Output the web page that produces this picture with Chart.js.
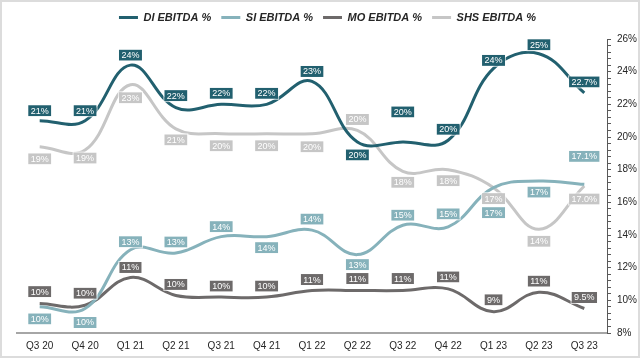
<!DOCTYPE html>
<html>
<head>
<meta charset="utf-8">
<script src="https://cdn.jsdelivr.net/npm/chart.js@4.4.1/dist/chart.umd.min.js"></script>
<style>
    html, body { margin: 0; padding: 0; background: #fff; }
    #wrap {
        width: 640px;
        height: 358px;
        box-sizing: border-box;
        border: 2px solid #dcdcdc;
    }
</style>
</head>
<body>
<div id="wrap"><canvas id="my-chart" width="636" height="354"></canvas></div>
<script>
// quarters on the x axis
const categories = ['Q3 20', 'Q4 20', 'Q1 21', 'Q2 21', 'Q3 21', 'Q4 21', 'Q1 22', 'Q2 22', 'Q3 22', 'Q4 22', 'Q1 23', 'Q2 23', 'Q3 23']

// EBITDA margins in %
const diValues = [21.0, 21.0, 24.4, 21.8, 22.0, 22.0, 23.4, 19.7, 19.7, 19.8, 24.2, 25.1, 22.7]
const siValues = [9.6, 9.5, 13.1, 12.9, 13.9, 13.9, 14.3, 12.8, 14.6, 14.5, 16.9, 17.3, 17.1]
const moValues = [9.8, 9.7, 11.4, 10.3, 10.2, 10.2, 10.6, 10.6, 10.6, 10.7, 9.3, 10.5, 9.5]
const shsValues = [19.4, 19.2, 23.2, 20.5, 20.2, 20.2, 20.2, 20.4, 17.9, 18.0, 16.9, 14.35, 17.0]

// labelled ticks on the right axis
const yTickLabels = [8, 10, 12, 14, 16, 18, 20, 22, 24, 26]

// vertical nudge of each value box from its point (px)
const labelShift = {
    di: [-10, -10, -10, -12, -11, -11, -10, 13, -30, -11, -8, -9, -11],
    si: [12, 14, -8, -11, -10, 11, -11, 10, -10, -13, 25, 11, -28],
    mo: [-12, -12, -10, -11, -11, -11, -11, -12, -12, -12, -12, -11, -11],
    shs: [12, 8, 13, 11, 12, 12, 13, -11, 11, 11, 11, 12, 13]
}

const FONT = "'Liberation Sans', Arial, sans-serif"

function makeSet(label, data, color, key) {
    return {
        label: label,
        data: data,
        borderColor: color,
        backgroundColor: color,
        borderWidth: 3,
        tension: 0.4,
        pointRadius: 0,
        pointHoverRadius: 0,
        fill: false,
        shiftKey: key
    }
}

// draw the little value boxes next to every point
const valueBoxes = {
    id: 'valueBoxes',
    afterDatasetsDraw(chart) {
        const c = chart.ctx
        c.save()
        c.font = '9px ' + FONT
        c.textAlign = 'center'
        c.textBaseline = 'middle'
        for (let d = chart.data.datasets.length - 1; d >= 0; d--) {
            const ds = chart.data.datasets[d]
            const meta = chart.getDatasetMeta(d)
            meta.data.forEach((pt, i) => {
                const v = ds.data[i]
                const txt = (i === ds.data.length - 1 ? v.toFixed(1) : Math.round(v)) + '%'
                const x = pt.x
                const y = pt.y + labelShift[ds.shiftKey][i]
                const w = c.measureText(txt).width + 5
                const h = 11
                c.fillStyle = ds.borderColor
                c.fillRect(x - w / 2, y - h / 2, w, h)
                c.strokeStyle = 'rgba(255,255,255,0.7)'
                c.lineWidth = 1
                c.strokeRect(x - w / 2 - 0.5, y - h / 2 - 0.5, w + 1, h + 1)
                c.fillStyle = '#ffffff'
                c.fillText(txt, x, y + 0.5)
            })
        }
        c.restore()
    }
}

new Chart(document.getElementById('my-chart'), {
    type: 'line',
    data: {
        labels: categories,
        datasets: [
            makeSet('DI EBITDA %', diValues, '#22606f', 'di'),
            makeSet('SI EBITDA %', siValues, '#86b2bb', 'si'),
            makeSet('MO EBITDA %', moValues, '#6d6a6a', 'mo'),
            makeSet('SHS EBITDA %', shsValues, '#c6c6c6', 'shs')
        ]
    },
    options: {
        responsive: false,
        animation: false,
        events: [],
        layout: { padding: { top: 0, left: 15, right: 0, bottom: 0 } },
        plugins: {
            legend: {
                position: 'top',
                weight: 3000,
                labels: {
                    usePointStyle: true,
                    pointStyle: 'line',
                    pointStyleWidth: 19,
                    padding: 10,
                    color: '#262626',
                    font: { family: FONT, size: 11, style: 'italic', weight: 'bold' }
                }
            },
            // empty title used as a spacer under the legend
            title: {
                display: true,
                text: '',
                font: { size: 1, lineHeight: 1 },
                padding: { top: 0, bottom: 5 }
            },
            tooltip: { enabled: false }
        },
        scales: {
            x: {
                offset: true,
                grid: { display: false, drawTicks: false, offset: true },
                border: { display: true, color: '#a6a6a6', width: 2 },
                ticks: {
                    color: '#262626',
                    font: { family: FONT, size: 10 },
                    padding: 7,
                    autoSkip: false,
                    maxRotation: 0
                },
                afterFit(scale) { scale.height = 23 }
            },
            y: {
                position: 'right',
                min: 8,
                max: 26,
                grid: { drawOnChartArea: false, drawTicks: true, tickLength: 4, color: '#595959' },
                border: { display: true, color: '#595959', width: 1 },
                ticks: {
                    stepSize: 0.4,
                    autoSkip: false,
                    padding: 6,
                    color: '#262626',
                    font: { family: FONT, size: 10 },
                    callback: (v) => {
                        const hit = yTickLabels.find((t) => Math.abs(t - v) < 1e-6)
                        return hit === undefined ? '' : hit + '%'
                    }
                },
                afterFit(scale) { scale.width = 31 }
            }
        }
    },
    plugins: [valueBoxes]
})
</script>
</body>
</html>
